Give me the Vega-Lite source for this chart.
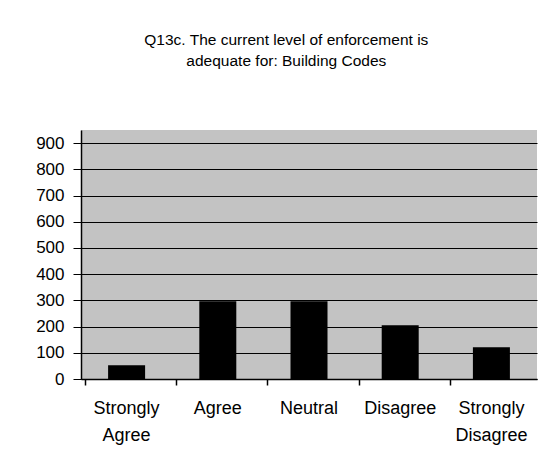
{
  "$schema": "https://vega.github.io/schema/vega-lite/v6.json",
  "autosize": {"type": "none"},
  "width": 456,
  "height": 249,
  "padding": {"left": 81, "top": 130, "right": 16, "bottom": 95},
  "background": "white",
  "title": {
    "text": ["Q13c. The current level of enforcement is", "adequate for:  Building Codes"],
    "font": "Liberation Sans",
    "fontSize": 15.5,
    "fontWeight": "normal",
    "color": "black",
    "lineHeight": 21,
    "anchor": "middle",
    "frame": "bounds",
    "offset": 61
  },
  "data": {
    "values": [
      {"response": "Strongly Agree", "count": 52},
      {"response": "Agree", "count": 297},
      {"response": "Neutral", "count": 297},
      {"response": "Disagree", "count": 205},
      {"response": "Strongly Disagree", "count": 121}
    ]
  },
  "config": {
    "view": {"fill": "#c3c3c3", "stroke": null},
    "axis": {"labelFont": "Liberation Sans", "labelFontSize": 17, "labelColor": "black", "domainColor": "black", "tickColor": "black"}
  },
  "resolve": {"axis": {"x": "independent", "y": "independent"}},
  "layer": [
    {
      "mark": {"type": "bar", "color": "black", "width": 37},
      "encoding": {
        "x": {
          "field": "response", "type": "nominal", "sort": null,
          "axis": {
            "title": null, "orient": "bottom", "labelAngle": 0, "ticks": false,
            "domain": true, "domainWidth": 1.5,
            "labelExpr": "split(datum.label, ' ')",
            "labelLineHeight": 27, "labelPadding": 20, "labelBaseline": "top",
            "labelFontSize": 18
          }
        },
        "y": {
          "field": "count", "type": "quantitative",
          "scale": {"domain": [0, 950], "nice": false},
          "axis": {
            "title": null, "values": [0, 100, 200, 300, 400, 500, 600, 700, 800, 900],
            "grid": true, "gridColor": "black", "gridWidth": 1.2, "gridOpacity": 1,
            "tickSize": 8, "labelPadding": 9, "domainWidth": 1.5, "labelFontSize": 17
          }
        }
      }
    },
    {
      "mark": {"type": "bar", "opacity": 0},
      "encoding": {
        "x": {
          "field": "response", "type": "nominal", "sort": null,
          "axis": {
            "title": null, "orient": "bottom", "labels": false, "domain": false,
            "bandPosition": 0, "tickSize": 6, "tickWidth": 1.5
          }
        },
        "y": {"field": "count", "type": "quantitative", "axis": null}
      }
    }
  ]
}
